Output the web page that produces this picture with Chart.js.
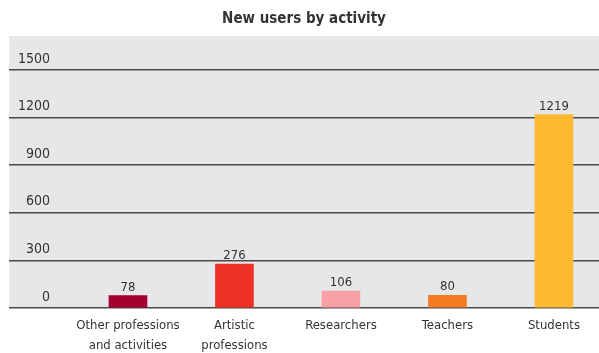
<!DOCTYPE html>
<html>
<head>
<meta charset="utf-8">
<script src="https://cdn.jsdelivr.net/npm/chart.js@4/dist/chart.umd.min.js"></script>
<style>
  html, body { margin: 0; padding: 0; background: #ffffff; overflow: hidden; }
  #wrap { position: relative; width: 599px; height: 353px; }
</style>
</head>
<body>
<div id="wrap"><canvas id="c" width="599" height="353"></canvas></div>
<script>
const title = "New users by activity";
const categories = [["Other professions", "and activities"], ["Artistic", "professions"], "Researchers", "Teachers", "Students"];
const values = [78, 276, 106, 80, 1219];
const colors = ["#a4002f", "#ee3124", "#f7a1a7", "#f37b22", "#fdba30"];
const yTicks = [0, 300, 600, 900, 1200, 1500];

const FONT = "'DejaVu Sans Condensed', 'Liberation Sans Narrow', sans-serif";
const TEXT = "#333333";

const bgPlugin = {
  id: 'bg',
  beforeDraw(chart) {
    const { ctx, chartArea: a } = chart;
    ctx.save();
    ctx.fillStyle = '#e6e7e9';
    ctx.fillRect(a.left, a.top, a.right - a.left, a.bottom - a.top);
    ctx.restore();
  }
};

const valuePlugin = {
  id: 'values',
  afterDatasetsDraw(chart) {
    const { ctx } = chart;
    const meta = chart.getDatasetMeta(0);
    ctx.save();
    ctx.font = "13px " + FONT;
    ctx.fillStyle = TEXT;
    ctx.textAlign = 'center';
    ctx.textBaseline = 'alphabetic';
    meta.data.forEach((bar, i) => {
      ctx.fillText(String(values[i]), bar.x, bar.y - 5);
    });
    ctx.restore();
  }
};

new Chart(document.getElementById('c'), {
  type: 'bar',
  data: {
    datasets: [{
      data: values.map((v, i) => ({ x: i, y: v })),
      backgroundColor: colors,
      borderWidth: 0,
      barThickness: 38
    }]
  },
  options: {
    responsive: false,
    animation: false,
    devicePixelRatio: 1,
    layout: { autoPadding: false, padding: { left: 9, right: 0, top: 0, bottom: 0 } },
    plugins: {
      legend: { display: false },
      tooltip: { enabled: false },
      title: {
        display: true,
        text: title,
        color: TEXT,
        font: { family: FONT, size: 15, weight: 'bold', lineHeight: 1.2 },
        padding: { top: 10, bottom: 8 }
      }
    },
    scales: {
      x: {
        type: 'linear',
        offset: false,
        min: -1.117,
        max: 4.423,
        grid: { display: false, drawTicks: false, offset: false },
        border: { display: false },
        afterBuildTicks(scale) { scale.ticks = categories.map((c, i) => ({ value: i })); },
        afterFit(scale) { scale.height = 45; },
        ticks: {
          autoSkip: false,
          maxRotation: 0,
          padding: 8,
          color: TEXT,
          font: { family: FONT, size: 13, lineHeight: 1.5 },
          callback: (v) => categories[v]
        }
      },
      y: {
        min: 0,
        max: 1714,
        grid: { color: '#4a4a4a', lineWidth: 1.5, drawTicks: false },
        border: { display: false },
        afterBuildTicks(scale) { scale.ticks = yTicks.map(v => ({ value: v })); },
        afterFit(scale) { scale.width = 0; },
        ticks: {
          mirror: true,
          crossAlign: 'far',
          padding: 9,
          labelOffset: -11,
          color: TEXT,
          font: { family: FONT, size: 14 },
          callback: (v) => String(v)
        }
      }
    }
  },
  plugins: [bgPlugin, valuePlugin]
});
</script>
</body>
</html>
